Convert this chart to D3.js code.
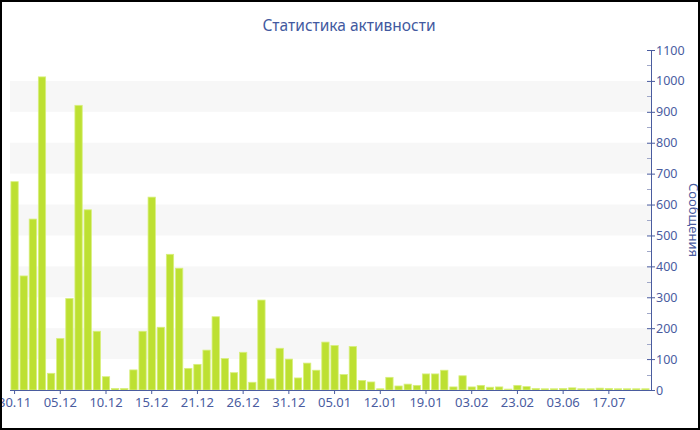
<!DOCTYPE html>
<html><head><meta charset="utf-8">
<script src="https://cdn.jsdelivr.net/npm/d3@7/dist/d3.min.js"></script>
<style>body{margin:0;background:#fff}svg{display:block}</style>
</head><body>
<script>
const dates = ["30.11","01.12","02.12","03.12","04.12","05.12","06.12","07.12","08.12","09.12",
"10.12","11.12","12.12","13.12","14.12","15.12","16.12","17.12","18.12","20.12",
"21.12","22.12","23.12","24.12","25.12","26.12","27.12","28.12","29.12","30.12",
"31.12","01.01","02.01","03.01","04.01","05.01","07.01","08.01","09.01","11.01",
"12.01","13.01","15.01","16.01","18.01","19.01","21.01","24.01","27.01","30.01",
"03.02","06.02","10.02","14.02","18.02","23.02","01.03","15.03","02.04","05.05",
"03.06","12.06","20.06","28.06","08.07","17.07","25.07","04.08","15.08","28.08"];
const messages = [674,369,553,1013,54,167,296,921,583,190,
43,5,5,65,190,624,203,439,394,70,
83,129,237,102,56,122,25,291,36,135,
100,39,87,64,155,144,50,141,31,26,
4,41,13,19,15,52,52,64,10,46,
10,15,9,10,3,15,11,5,4,4,
5,7,4,4,6,5,4,4,4,4];
const yTicks = [0,100,200,300,400,500,600,700,800,900,1000,1100];
const title = "Статистика активности";
const yTitle = "Сообщения";

const W = 700, H = 430;
const axisColor = "#4a5c9f", textColor = "#4a5c9f";
const font = "'Noto Sans', 'Open Sans', sans-serif";
const svg = d3.select("body").append("svg").attr("width", W).attr("height", H);

const x = d3.scaleBand().domain(dates).range([10, 650]).paddingInner(0.2).paddingOuter(0.1);
const y = d3.scaleLinear().domain([0, 1100]).range([390, 50]);

// alternating bands
const bandStarts = yTicks.filter(t => t % 200 === 100 && t < 1100);
svg.append("g").selectAll("rect").data(bandStarts).join("rect")
  .attr("x", 10).attr("width", 641)
  .attr("y", d => y(d + 100)).attr("height", d => y(d) - y(d + 100))
  .attr("fill", "#f7f7f7");

// bars
svg.append("g").selectAll("rect").data(messages).join("rect")
  .attr("x", (d, i) => x(dates[i]))
  .attr("width", x.bandwidth())
  .attr("y", d => y(d))
  .attr("height", d => 390 - y(d))
  .attr("fill", "#bde032")
  .attr("stroke", "#d8ef7e").attr("stroke-width", 0.8);

// x axis
const xLabeled = dates.filter((d, i) => i % 5 === 0);
const xAxis = d3.axisBottom(x).tickValues(xLabeled).tickSize(4).tickSizeOuter(0).tickPadding(4);
const gx = svg.append("g").attr("transform", "translate(0,390)").call(xAxis);
gx.select(".domain").attr("stroke", axisColor).attr("d", "M10,0.5H651");
gx.selectAll(".tick line").attr("stroke", axisColor);
gx.selectAll(".tick text").attr("fill", textColor).attr("font-family", font).attr("font-size", 13);

// y axis (right)
const minor = d3.range(50, 1100, 100);
svg.append("g").selectAll("line").data(minor).join("line")
  .attr("x1", 647).attr("x2", 651)
  .attr("y1", d => Math.round(y(d)) + 0.5).attr("y2", d => Math.round(y(d)) + 0.5)
  .attr("stroke", "#a0a8c8");
const yAxis = d3.axisRight(y).tickValues(yTicks).tickFormat(d3.format("d"))
  .tickSize(4).tickPadding(1).tickSizeOuter(0);
const gy = svg.append("g").attr("transform", "translate(651,0)").call(yAxis);
gy.select(".domain").attr("stroke", axisColor);
gy.selectAll(".tick line").attr("stroke", axisColor).attr("x1", -4);
gy.selectAll(".tick text").attr("fill", textColor).attr("font-family", font).attr("font-size", 12.5);

// titles
svg.append("text").attr("x", 349).attr("y", 31).attr("text-anchor", "middle")
  .attr("font-family", font).attr("font-size", 15.5).attr("fill", "#4259a0").text(title);
svg.append("text").attr("transform", "translate(689,220) rotate(90)").attr("text-anchor", "middle")
  .attr("font-family", font).attr("font-size", 13).attr("fill", textColor).text(yTitle);

// border
svg.append("rect").attr("x", 1).attr("y", 1).attr("width", 698).attr("height", 428)
  .attr("fill", "none").attr("stroke", "#000").attr("stroke-width", 2);
</script>
</body></html>
